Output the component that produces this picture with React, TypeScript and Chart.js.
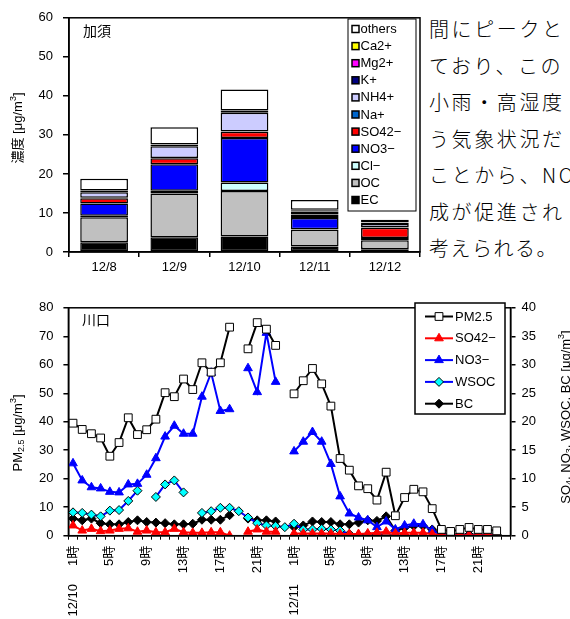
import React, { useEffect, useRef } from 'react';
import { Chart, registerables } from 'chart.js';
Chart.register(...registerables);

const FONT = '"Liberation Sans", Arial, "Noto Sans CJK JP", sans-serif';

// ---------- Top chart (加須) ----------
const barDays = ['12/8', '12/9', '12/10', '12/11', '12/12'];
const ecVals = [2.5, 3.8, 4.0, 1.4, 0.7];
const ocVals = [6.4, 11.2, 11.6, 4.3, 2.3];
const clVals = [0.4, 0.7, 2.2, 0.1, 0.1];
const no3Vals = [3.1, 6.8, 11.4, 2.9, 0.5];
const so4Vals = [1.4, 1.5, 1.6, 0.8, 2.6];
const naVals = [0.1, 0.1, 0.1, 0.1, 0.1];
const nh4Vals = [1.4, 3.0, 4.8, 0.8, 0.9];
const kVals = [0.3, 0.3, 0.4, 0.3, 0.3];
const mgVals = [0.05, 0.05, 0.05, 0.05, 0.05];
const caVals = [0.1, 0.1, 0.1, 0.1, 0.1];
const othersVals = [3.0, 4.4, 5.4, 2.5, 0.6];
const barYTicks = [0, 10, 20, 30, 40, 50, 60];

// ---------- Bottom chart (川口) ----------
const dayLabels = ['12/10', '12/11'];
const hourLabels = ['1時', '2時', '3時', '4時', '5時', '6時', '7時', '8時', '9時', '10時', '11時', '12時',
  '13時', '14時', '15時', '16時', '17時', '18時', '19時', '20時', '21時', '22時', '23時', '24時'];
const pm25 = [39.5, 37.3, 35.8, 34.3, 27.9, 32.7, 41.4, 35.5, 37.2, 40.9, 50.2, 48.8, 55.0, 51.3, 60.7, 57.4, 60.7, 73.2, null, 65.6, 74.8, 72.5, 66.8, null,
  49.8, 54.4, 58.7, 53.3, 45.5, 27.1, 23.0, 17.5, 16.5, 12.5, 22.3, 7.0, 13.4, 16.3, 15.4, 9.5, 2.2, 1.5, 2.2, 2.9, 2.2, 2.2, 1.7, null];
const so4Hourly = [1.8, 0.9, 1.2, 0.8, 0.9, 1.2, 1.3, 0.7, 0.9, 0.6, 0.6, 1.2, 0.6, 0.5, 0.5, 0.6, 0.6, 0.0, null, 0.7, 1.1, 0.7, 0.7, null,
  0.4, 0.4, 0.4, 0.4, 0.4, 0.3, 0.3, 0.3, 0.4, 0.5, 0.7, 0.4, 0.5, 0.5, 0.5, 0.3, 0.1, 0.1, 0.1, 0.1, 0.1, 0.1, 0.1, null];
const no3Hourly = [12.7, 9.7, 8.5, 8.3, 7.7, 7.6, 9.0, 9.1, 10.7, 13.6, 17.4, 19.3, 17.9, 17.9, 24.4, 28.6, 21.9, 22.2, null, 29.4, 25.2, 35.6, 27.0, null,
  14.8, 16.5, 18.2, 16.5, 12.6, 6.9, 3.9, 3.2, 2.7, 1.5, 2.5, 1.1, 1.8, 2.1, 2.0, 0.9, 0.2, 0.1, 0.1, 0.1, 0.1, 0.1, 0.1, null];
const wsocHourly = [4.1, 4.0, 3.7, 3.4, 4.4, 4.5, 6.1, 7.9, null, 6.8, 9.0, 9.7, 7.6, null, 4.0, 4.3, 4.9, 4.9, 4.3, 3.2, 2.2, 1.8, 1.7, 1.5,
  2.1, 1.1, 1.1, 1.2, 1.1, 0.9, 0.3, 0.1, 0.2, 0.3, 0.1, 0.0, 0.1, null, null, null, null, null, null, null, null, null, null, null];
const bcHourly = [3.0, 2.7, 3.0, 2.2, 2.0, 2.0, 2.4, 2.7, 2.4, 2.3, 2.2, 2.0, 2.0, 2.1, 2.8, 2.8, 2.8, 3.6, null, 3.0, 2.7, 2.7, 2.5, null,
  1.5, 1.8, 2.5, 2.4, 2.4, 2.0, 2.0, 2.3, 2.7, 2.6, 3.4, 0.9, 1.4, 1.7, 1.7, 1.1, 0.4, 0.3, 0.2, 0.2, 0.2, 0.2, 0.2, null];

const textLines = ['間にピークと', 'ており、この', '小雨・高湿度', 'う気象状況だ', 'ことから、NO', '成が促進され', '考えられる。'];

type Seg = { t: string; sub?: boolean; sup?: boolean };

function drawRich(ctx: CanvasRenderingContext2D, segs: Seg[], x: number, y: number, size: number, rot: number) {
  ctx.save();
  ctx.translate(x, y);
  ctx.rotate(rot);
  const small = Math.round(size * 0.72);
  let total = 0;
  const widths = segs.map((s) => {
    ctx.font = (s.sub || s.sup ? small : size) + 'px ' + FONT;
    const w = ctx.measureText(s.t).width;
    total += w;
    return w;
  });
  let cx = -total / 2;
  ctx.textAlign = 'left';
  ctx.textBaseline = 'middle';
  ctx.fillStyle = '#000';
  segs.forEach((s, i) => {
    ctx.font = (s.sub || s.sup ? small : size) + 'px ' + FONT;
    const dy = s.sub ? size * 0.3 : s.sup ? -size * 0.35 : 0;
    ctx.fillText(s.t, cx, dy);
    cx += widths[i];
  });
  ctx.restore();
}

function drawMarker(ctx: CanvasRenderingContext2D, style: string, x: number, y: number, r: number, fill: string, stroke: string, lw: number) {
  ctx.beginPath();
  if (style === 'rect') {
    const s = r * Math.SQRT1_2;
    ctx.rect(x - s, y - s, 2 * s, 2 * s);
  } else if (style === 'triangle') {
    ctx.moveTo(x, y - r);
    ctx.lineTo(x + r * 0.866, y + r / 2);
    ctx.lineTo(x - r * 0.866, y + r / 2);
    ctx.closePath();
  } else {
    ctx.moveTo(x - r, y);
    ctx.lineTo(x, y - r);
    ctx.lineTo(x + r, y);
    ctx.lineTo(x, y + r);
    ctx.closePath();
  }
  ctx.fillStyle = fill;
  ctx.fill();
  ctx.lineWidth = lw;
  ctx.strokeStyle = stroke;
  ctx.stroke();
}

const topDecor = {
  id: 'topDecor',
  afterDraw(chart: any) {
    const { ctx, chartArea: a } = chart;
    ctx.save();
    ctx.strokeStyle = '#000';
    ctx.lineWidth = 1.5;
    ctx.strokeRect(a.left, a.top, a.right - a.left, a.bottom - a.top);
    ctx.fillStyle = '#000';
    ctx.font = '14px ' + FONT;
    ctx.textBaseline = 'middle';
    ctx.textAlign = 'left';
    ctx.fillText('加須', 83, 32);
    // legend
    const lx = 348, ly = 19, lw = 68, lh = 192;
    ctx.fillStyle = '#fff';
    ctx.fillRect(lx, ly, lw, lh);
    ctx.lineWidth = 1;
    ctx.strokeStyle = '#000';
    ctx.strokeRect(lx, ly, lw, lh);
    const ds = chart.data.datasets.slice().reverse();
    ds.forEach((d: any, i: number) => {
      const cy = ly + 10 + i * 17.1;
      ctx.fillStyle = d.backgroundColor;
      ctx.fillRect(lx + 4, cy - 3.5, 7, 7);
      ctx.lineWidth = 1.5;
      ctx.strokeStyle = '#000';
      ctx.strokeRect(lx + 4, cy - 3.5, 7, 7);
      ctx.fillStyle = '#000';
      ctx.font = '13px ' + FONT;
      ctx.textBaseline = 'middle';
      ctx.fillText(d.label, lx + 12.5, cy + 0.5);
    });
    drawRich(ctx, [{ t: '濃度 [μg/m' }, { t: '3', sup: true }, { t: ']' }], 18, 128, 13, -Math.PI / 2);
    ctx.restore();
  },
};

const bottomDecor = {
  id: 'bottomDecor',
  afterDraw(chart: any) {
    const { ctx, chartArea: a } = chart;
    ctx.save();
    ctx.strokeStyle = '#000';
    ctx.lineWidth = 1.5;
    ctx.strokeRect(a.left, a.top, a.right - a.left, a.bottom - a.top);
    ctx.fillStyle = '#000';
    ctx.font = '14px ' + FONT;
    ctx.textBaseline = 'middle';
    ctx.textAlign = 'left';
    ctx.fillText('川口', 82, 31);
    // legend
    const lx = 415, ly = 13, lw = 90, lh = 111;
    ctx.fillStyle = '#fff';
    ctx.fillRect(lx, ly, lw, lh);
    ctx.lineWidth = 1.5;
    ctx.strokeStyle = '#000';
    ctx.strokeRect(lx, ly, lw, lh);
    chart.data.datasets.forEach((d: any, i: number) => {
      const cy = ly + 13.5 + i * 21.8;
      ctx.beginPath();
      ctx.moveTo(lx + 10, cy);
      ctx.lineTo(lx + 38, cy);
      ctx.lineWidth = 2;
      ctx.strokeStyle = d.borderColor;
      ctx.stroke();
      drawMarker(ctx, d.pointStyle, lx + 24, cy, d.pointRadius, d.pointBackgroundColor, d.pointBorderColor, d.pointBorderWidth);
      ctx.fillStyle = '#000';
      ctx.font = '13px ' + FONT;
      ctx.textBaseline = 'middle';
      ctx.textAlign = 'left';
      ctx.fillText(d.label, lx + 40, cy + 0.5);
    });
    drawRich(ctx, [{ t: 'PM' }, { t: '2.5', sub: true }, { t: ' [μg/m' }, { t: '3', sup: true }, { t: ']' }], 18, 143, 13, -Math.PI / 2);
    drawRich(ctx, [{ t: 'SO' }, { t: '4', sub: true }, { t: ', NO' }, { t: '3', sub: true }, { t: ', WSOC, BC [μg/m' }, { t: '3', sup: true }, { t: ']' }], 566, 127, 13, -Math.PI / 2);
    ctx.restore();
  },
};

function TopChart() {
  const ref = useRef<HTMLCanvasElement>(null);
  useEffect(() => {
    const mk = (label: string, data: number[], color: string) => ({
      label, data, backgroundColor: color, borderColor: '#000', borderWidth: 1.5, borderSkipped: false as const,
      barPercentage: 0.68, categoryPercentage: 1,
    });
    const chart = new Chart(ref.current!, {
      type: 'bar',
      data: {
        labels: barDays,
        datasets: [
          mk('EC', ecVals, '#000000'),
          mk('OC', ocVals, '#C0C0C0'),
          mk('Cl−', clVals, '#CCFFFF'),
          mk('NO3−', no3Vals, '#0000FF'),
          mk('SO42−', so4Vals, '#FF0000'),
          mk('Na+', naVals, '#0066CC'),
          mk('NH4+', nh4Vals, '#CCCCFF'),
          mk('K+', kVals, '#000080'),
          mk('Mg2+', mgVals, '#FF00FF'),
          mk('Ca2+', caVals, '#FFFF00'),
          mk('others', othersVals, '#FFFFFF'),
        ],
      },
      options: {
        responsive: true,
        maintainAspectRatio: false,
        animation: false,
        layout: { padding: { top: 15, right: 5, left: 0, bottom: 0 } },
        plugins: { legend: { display: false }, tooltip: { enabled: false } },
        scales: {
          x: {
            stacked: true,
            grid: { drawOnChartArea: false, offset: true, tickLength: 5, color: '#000', lineWidth: 1.5 },
            border: { color: '#000', width: 1.5 },
            ticks: { color: '#000', font: { family: FONT, size: 13 }, padding: 3 },
            afterFit: (s: any) => { s.height = 33; },
          },
          y: {
            stacked: true,
            min: barYTicks[0],
            max: barYTicks[barYTicks.length - 1],
            grid: { drawOnChartArea: false, tickLength: 6, color: '#000', lineWidth: 1.5 },
            border: { color: '#000', width: 1.5 },
            ticks: { stepSize: 10, color: '#000', font: { family: FONT, size: 13 }, padding: 10 },
            afterFit: (s: any) => { s.width = 69; },
          },
        },
      },
      plugins: [topDecor],
    });
    return () => chart.destroy();
  }, []);
  return (
    <div style={{ position: 'absolute', left: 0, top: 0, width: 425, height: 285 }}>
      <canvas ref={ref} />
    </div>
  );
}

function BottomChart() {
  const ref = useRef<HTMLCanvasElement>(null);
  useEffect(() => {
    const labels = dayLabels.flatMap((d) => hourLabels.map((h) => d + ' ' + h));
    const chart = new Chart(ref.current!, {
      type: 'line',
      data: {
        labels,
        datasets: [
          { label: 'PM2.5', data: pm25, yAxisID: 'y', borderColor: '#000', borderWidth: 2, pointStyle: 'rect', pointRadius: 5.5,
            pointBackgroundColor: '#fff', pointBorderColor: '#000', pointBorderWidth: 1, spanGaps: false, tension: 0 },
          { label: 'SO42−', data: so4Hourly, yAxisID: 'y1', borderColor: '#FF0000', borderWidth: 2, pointStyle: 'triangle', pointRadius: 5,
            pointBackgroundColor: '#FF0000', pointBorderColor: '#FF0000', pointBorderWidth: 1, spanGaps: false, tension: 0 },
          { label: 'NO3−', data: no3Hourly, yAxisID: 'y1', borderColor: '#0000FF', borderWidth: 2, pointStyle: 'triangle', pointRadius: 5,
            pointBackgroundColor: '#0000FF', pointBorderColor: '#0000FF', pointBorderWidth: 1, spanGaps: false, tension: 0 },
          { label: 'WSOC', data: wsocHourly, yAxisID: 'y1', borderColor: '#0000FF', borderWidth: 2, pointStyle: 'rectRot', pointRadius: 4.5,
            pointBackgroundColor: '#00FFFF', pointBorderColor: '#000', pointBorderWidth: 1, spanGaps: false, tension: 0 },
          { label: 'BC', data: bcHourly, yAxisID: 'y1', borderColor: '#000', borderWidth: 2, pointStyle: 'rectRot', pointRadius: 4.5,
            pointBackgroundColor: '#000', pointBorderColor: '#000', pointBorderWidth: 1, spanGaps: false, tension: 0 },
        ],
      },
      options: {
        responsive: true,
        maintainAspectRatio: false,
        animation: false,
        layout: { padding: { top: 13, right: 0, left: 0, bottom: 0 } },
        plugins: { legend: { display: false }, tooltip: { enabled: false } },
        scales: {
          x: {
            offset: true,
            grid: { drawOnChartArea: false, offset: true, tickLength: 4, color: '#000', lineWidth: 1 },
            border: { color: '#000', width: 1.5 },
            ticks: {
              autoSkip: false, minRotation: 90, maxRotation: 90, color: '#000', padding: 6,
              font: { family: FONT, size: 13 },
              callback: (_v: any, i: number) => {
                if (i % 4 !== 0) return '';
                const h = hourLabels[i % 24];
                return i % 24 === 0 ? dayLabels[i / 24] + '     ' + h : h;
              },
            },
            afterFit: (s: any) => { s.height = 99.3; },
          },
          y: {
            position: 'left',
            min: 0, max: 80,
            grid: { drawOnChartArea: false, tickLength: 5, color: '#000', lineWidth: 1.5 },
            border: { color: '#000', width: 1.5 },
            ticks: { stepSize: 10, color: '#000', font: { family: FONT, size: 13 }, padding: 10 },
            afterFit: (s: any) => { s.width = 68.4; },
          },
          y1: {
            position: 'right',
            min: 0, max: 40,
            grid: { drawOnChartArea: false, tickLength: 5, color: '#000', lineWidth: 1.5 },
            border: { color: '#000', width: 1.5 },
            ticks: { stepSize: 5, color: '#000', font: { family: FONT, size: 13 }, padding: 6 },
            afterFit: (s: any) => { s.width = 59.5; },
          },
        },
      },
      plugins: [bottomDecor],
    });
    return () => chart.destroy();
  }, []);
  return (
    <div style={{ position: 'absolute', left: 0, top: 290, width: 570, height: 345 }}>
      <canvas ref={ref} />
    </div>
  );
}

export default function App() {
  return (
    <div style={{ position: 'absolute', left: 0, top: 0, width: 570, height: 619, overflow: 'hidden', background: '#fff' }}>
      <TopChart />
      <div style={{ position: 'absolute', left: 429, top: 11, width: 141, overflow: 'hidden', whiteSpace: 'nowrap',
        fontFamily: '"Noto Sans CJK JP", serif', fontSize: 20, fontWeight: 300, lineHeight: '36.5px', color: '#000' }}>
        {textLines.map((l, i) => (
          <div key={i} style={{ letterSpacing: i < textLines.length - 1 ? '2.6px' : '1.5px' }}>{l}</div>
        ))}
      </div>
      <BottomChart />
    </div>
  );
}
